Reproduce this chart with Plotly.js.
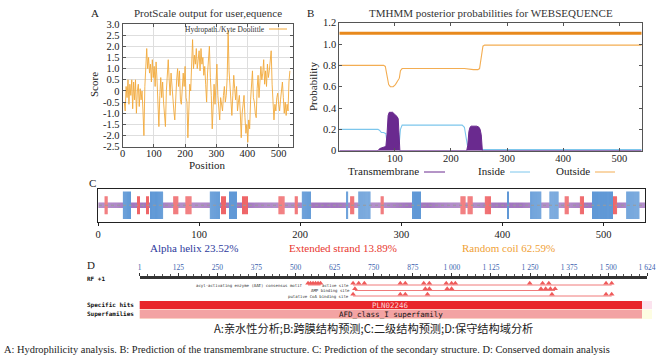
<!DOCTYPE html>
<html><head><meta charset="utf-8">
<script src="https://cdn.plot.ly/plotly-3.0.1.min.js"></script>
<style>html,body{margin:0;padding:0;background:#fff}#chart{width:661px;height:360px}</style>
</head><body><div id="chart"></div>
<script>
// ---------- Panel A: hydropathy (Kyte-Doolittle) ----------
const hydroPos = [5,8,11,14,17,20,23,26,29,32,35,38,41,44,47,50,53,56,59,62,65,68,71,74,77,80,83,86,89,92,95,98,101,104,107,110,113,116,119,122,125,128,131,134,137,140,143,146,149,152,155,158,161,164,167,170,173,176,179,182,185,188,191,194,197,200,203,206,209,212,215,218,221,224,227,230,233,236,239,242,245,248,251,254,257,260,263,266,269,272,275,278,281,284,287,290,293,296,299,302,305,308,311,314,317,320,323,326,329,332,335,338,341,344,347,350,353,356,359,362,365,368,371,374,377,380,383,386,389,392,395,398,401,404,407,410,413,416,419,422,425,428,431,434,437,440,443,446,449,452,455,458,461,464,467,470,473,476,479,482,485,488,491,494,497,500,503,506,509,512,515,518,521,524,527,530,533,536];
const hydroScore = [-0.5,-0.9,0.2,-0.3,0.5,-0.6,0.3,-0.2,0.5,-0.8,0.4,-0.4,0.5,-1.0,0.0,0.3,-0.7,0.1,-0.4,0.0,-0.9,-2.0,0.2,1.2,1.9,1.0,1.5,0.8,1.2,0.4,1.4,0.6,1.1,0.2,1.3,0.5,-0.3,-1.6,-0.2,0.6,-0.3,0.4,-0.5,-1.2,-1.6,0.0,1.0,1.4,0.5,-0.2,0.8,0.2,-0.6,-0.9,-1.3,-0.2,0.5,1.0,0.2,0.9,-0.4,-0.6,0.3,0.8,0.2,1.1,-0.3,-0.5,-2.1,-0.5,0.3,0.0,0.9,2.3,1.0,1.6,1.2,1.9,1.0,1.5,1.8,0.9,1.9,1.2,1.5,0.7,1.1,0.3,-0.5,0.8,1.3,2.0,0.6,-0.2,-1.7,-0.4,0.3,-0.6,0.5,1.2,-0.2,-0.8,-1.3,-0.3,-0.6,-0.9,-0.2,0.2,-0.5,-0.2,0.6,2.7,0.9,0.3,-0.4,-1.1,-0.2,0.7,0.1,-0.4,0.2,-0.9,-0.5,-0.2,-1.0,-2.1,-1.0,-0.6,-0.2,-1.2,-1.9,-1.5,-2.3,-1.3,-1.7,-0.4,0.2,0.9,-0.3,-0.5,-1.0,-1.2,0.1,0.7,-0.3,0.4,1.1,0.5,0.8,1.4,0.3,0.9,0.2,1.2,0.6,0.9,1.3,1.8,0.3,-0.5,-1.3,-0.6,-0.9,-0.3,-0.1,-0.6,-0.9,-0.4,0.1,0.4,-0.3,-1.0,-0.5,-1.1,-0.6,-0.9,0.4,0.9];
const scoreTicks = [-2.5,-2,-1.5,-1,-0.5,0,0.5,1,1.5,2,2.5,3];
const scoreTickText = ['-2.5','-2.0','-1.5','-1.0','-0.5','0','0.5','1.0','1.5','2.0','2.5','3.0'];
const positionTicks = [0,100,200,300,400,500];

// ---------- Panel B: TMHMM posterior probabilities ----------
const topologyPos = [1,540];
const topologyLevel = [1.1,1.1];
const outsidePos  = [1,76,80,83,86,89,92,97,101,105,108,110,113,150,200,224,240,248,251,253,255,257,260,400,540];
const outsideProb = [0.80,0.80,0.80,0.79,0.72,0.62,0.60,0.60,0.62,0.66,0.68,0.75,0.77,0.77,0.77,0.77,0.76,0.76,0.77,0.85,0.95,0.98,0.99,0.99,0.99];
const insidePos  = [1,70,73,76,80,84,86,88,105,108,110,113,150,220,224,227,230,233,260,540];
const insideProb = [0.20,0.20,0.19,0.17,0.17,0.16,0.08,0.03,0.03,0.08,0.20,0.24,0.24,0.24,0.22,0.12,0.03,0.015,0.01,0.01];
const tmPos  = [1,70,73,78,84,86,88,90,96,100,104,106,107,108,109,228,230,232,234,236,246,250,252,254,255,256,540];
const tmProb = [0,0,0.02,0.03,0.04,0.15,0.33,0.36,0.36,0.34,0.32,0.30,0.20,0.05,0,0,0.05,0.18,0.22,0.23,0.23,0.22,0.20,0.15,0.05,0,0];
const probTicks = [0,0.2,0.4,0.6,0.8,1.0,1.2];
const probTickText = ['0','0.2','0.4','0.6','0.8','1.0','1.2'];
const tmLegend = ['Transmembrane','Inside','Outside'];

// ---------- Panel C: secondary structure (SOPMA) ----------
const seqLength = 541;
const helixStart = [25,52,111,130,202,246,258,311,405,428,447,489,523];
const helixEnd   = [32,64,120,137,210,247,269,319,406,438,455,509,535];
const strandStart = [7,39,48,75,87,122,143,179,195,250,280,359,366,383,462,477,510];
const strandEnd   = [9,41,50,79,92,126,148,184,197,253,282,363,370,388,465,480,513];
const structureLabels = ['Alpha helix 23.52%','Extended strand 13.89%','Random coil 62.59%'];

// ---------- Panel D: conserved domains (CDD) ----------
const rulerTicks = [1,125,250,375,500,625,750,875,1000,1125,1250,1375,1500,1624];
const rulerTickText = ['1','125','250','375','500','625','750','875','1 000','1 125','1 250','1 375','1 500','1 624'];
const aaeMotifSites = [540,548,556,564,572,580];
const activeSites = [684,702,720,835,851,910,928,982,999,1011,1249,1290,1310,1493,1511];
const ampSites = [690,915,928,985,999,1285,1300,1315,1330];
const coaSites = [684,835,851,922,1320,1493,1511];
const specificHitName = 'PLN02246';
const specificHitRange = [1,1608];
const superfamilyName = 'AFD_class_I superfamily';
const superfamilyRange = [1,1608];

// ================= drawing =================
const W = 661, H = 360;
const px = x => x / W, py = y => 1 - y / H;
const SERIF = 'Liberation Serif, Times New Roman, serif';
const MONO = 'DejaVu Sans Mono, Liberation Mono, monospace';

function expand(starts, ends) {
  const out = [];
  for (let i = 0; i < starts.length; i++) for (let r = starts[i]; r <= ends[i]; r++) out.push(r);
  return out;
}
const helixRes = expand(helixStart, helixEnd);
const strandRes = expand(strandStart, strandEnd);
const taken = new Set(helixRes.concat(strandRes));
const coilRes = [];
for (let r = 1; r <= seqLength; r++) if (!taken.has(r)) coilRes.push(r);

const HELIX_H = 27.5, STRAND_H = 18, COIL_H = 5.5;
const traces = [];
// A
traces.push({type:'scatter', mode:'lines', x:hydroPos, y:hydroScore, xaxis:'x', yaxis:'y',
  line:{color:'#f2a93b', width:0.9}, hoverinfo:'skip'});
// B
traces.push({type:'scatter', mode:'lines', x:topologyPos, y:topologyLevel, xaxis:'x2', yaxis:'y2',
  line:{color:'#e8891c', width:3}, hoverinfo:'skip'});
traces.push({type:'scatter', mode:'lines', x:outsidePos, y:outsideProb, xaxis:'x2', yaxis:'y2',
  line:{color:'#f3ad52', width:1.1}, hoverinfo:'skip'});
traces.push({type:'scatter', mode:'lines', x:insidePos, y:insideProb, xaxis:'x2', yaxis:'y2',
  line:{color:'#7cc6ec', width:1.1}, hoverinfo:'skip'});
traces.push({type:'scatter', mode:'lines', x:tmPos, y:tmProb, xaxis:'x2', yaxis:'y2', fill:'tozeroy',
  fillcolor:'#6a2a8f', line:{color:'#6a2a8f', width:1}, hoverinfo:'skip'});
// C
traces.push({type:'scatter', mode:'lines', x:[1, seqLength], y:[0,0], xaxis:'x3', yaxis:'y3',
  line:{color:'#9a9a9a', width:1, dash:'dot'}, hoverinfo:'skip'});
traces.push({type:'bar', x:coilRes, y:coilRes.map(()=>COIL_H), base:coilRes.map(()=>-COIL_H/2), width:0.7,
  xaxis:'x3', yaxis:'y3', marker:{color:'#7d3fa6', line:{width:0}}, hoverinfo:'skip'});
traces.push({type:'bar', x:strandRes, y:strandRes.map(()=>STRAND_H), base:strandRes.map(()=>-STRAND_H/2), width:0.7,
  xaxis:'x3', yaxis:'y3', marker:{color:'#e8262a', line:{width:0}}, hoverinfo:'skip'});
traces.push({type:'bar', x:helixRes, y:helixRes.map(()=>HELIX_H), base:helixRes.map(()=>-HELIX_H/2), width:0.7,
  xaxis:'x3', yaxis:'y3', marker:{color:'#1f6fc6', line:{width:0}}, hoverinfo:'skip'});
// D rows (y in px-like units inside the panel)
const ROW_ACT = 36, ROW_AMP = 30.5, ROW_COA = 25, ROW_HIT = 16, ROW_SF = 7;
function siteRow(sites, row) {
  traces.push({type:'scatter', mode:'lines', x:[Math.min(...sites), Math.max(...sites)], y:[row,row],
    xaxis:'x4', yaxis:'y4', line:{color:'#f07a7a', width:1}, hoverinfo:'skip'});
  traces.push({type:'scatter', mode:'markers', x:sites, y:sites.map(()=>row+1.8),
    xaxis:'x4', yaxis:'y4', marker:{symbol:'triangle-up', size:5, color:'#ef5a5a', line:{width:0}}, hoverinfo:'skip'});
}
siteRow(aaeMotifSites, ROW_ACT);
siteRow(activeSites, ROW_ACT);
siteRow(ampSites, ROW_AMP);
siteRow(coaSites, ROW_COA);
traces.push({type:'bar', orientation:'h', y:[ROW_SF], base:[superfamilyRange[0]], x:[superfamilyRange[1]-superfamilyRange[0]],
  width:[9], xaxis:'x4', yaxis:'y4', marker:{color:'#f3a3a3', line:{width:0}}, hoverinfo:'skip'});
traces.push({type:'bar', orientation:'h', y:[ROW_HIT], base:[specificHitRange[0]], x:[specificHitRange[1]-specificHitRange[0]],
  width:[8], xaxis:'x4', yaxis:'y4', marker:{color:'#e8252b', line:{width:0}}, hoverinfo:'skip'});

function ann(text, x, y, o = {}) {
  return Object.assign({text, x:px(x), y:py(y), xref:'paper', yref:'paper', showarrow:false,
    xanchor:'center', yanchor:'middle', font:{family:SERIF, size:11, color:'#222'}}, o);
}
const annotations = [
  ann('A', 95, 13), ann('B', 310, 13), ann('C', 92, 183), ann('D', 91, 265),
  ann('ProtScale output for user,equence', 208, 13, {font:{family:SERIF, size:11, color:'#333'}}),
  ann('TMHMM posterior probabilities for WEBSEQUENCE', 491, 13, {font:{family:SERIF, size:11, color:'#333'}}),
  ann('Score', 94, 85, {textangle:-90}),
  ann('Position', 207, 165.5),
  ann('Probability', 313, 87, {textangle:-90}),
  ann('Hydropath./Kyte Doolittle', 267, 29, {xanchor:'right', font:{family:SERIF, size:7.5, color:'#333'}}),
  ann(tmLegend[0], 421, 171, {xanchor:'right'}),
  ann(tmLegend[1], 507, 171, {xanchor:'right'}),
  ann(tmLegend[2], 592, 171, {xanchor:'right'}),
  ann(structureLabels[0], 194, 247.5, {font:{family:SERIF, size:11, color:'#2d3a9c'}}),
  ann(structureLabels[1], 343, 247.5, {font:{family:SERIF, size:11, color:'#e8382f'}}),
  ann(structureLabels[2], 508, 247.5, {font:{family:SERIF, size:11, color:'#f0a136'}}),
  ann('RF +1', 85, 278, {xanchor:'left', font:{family:MONO, size:6, color:'#111', weight:'bold'}}),
  ann('Specific hits', 85, 304.5, {xanchor:'left', font:{family:MONO, size:6, color:'#111', weight:'bold'}}),
  ann('Superfamilies', 85, 314, {xanchor:'left', font:{family:MONO, size:6, color:'#111', weight:'bold'}}),
  ann('acyl-activating enzyme (AAE) consensus motif', 305, 285, {xanchor:'right', font:{family:MONO, size:4, color:'#333'}}),
  ann('active site', 351, 285, {xanchor:'right', font:{family:MONO, size:4, color:'#333'}}),
  ann('AMP binding site', 352, 290.5, {xanchor:'right', font:{family:MONO, size:4, color:'#333'}}),
  ann('putative CoA binding site', 351, 296, {xanchor:'right', font:{family:MONO, size:4, color:'#333'}}),
  {text:specificHitName, x:(specificHitRange[0]+specificHitRange[1])/2, y:ROW_HIT, xref:'x4', yref:'y4', showarrow:false,
    xanchor:'center', yanchor:'middle', font:{family:MONO, size:7.5, color:'#fbd3d3'}},
  {text:superfamilyName, x:(superfamilyRange[0]+superfamilyRange[1])/2, y:ROW_SF, xref:'x4', yref:'y4', showarrow:false,
    xanchor:'center', yanchor:'middle', font:{family:MONO, size:7.5, color:'#111'}},
  ann('A:亲水性分析;B:跨膜结构预测;C:二级结构预测;D:保守结构域分析', 373, 328,
      {font:{family:'Noto Sans CJK SC, sans-serif', size:11.2, color:'#222'}}),
  ann('A: Hydrophilicity analysis. B: Prediction of the transmembrane structure. C: Prediction of the secondary structure. D: Conserved domain analysis',
      2, 349, {xanchor:'left', font:{family:SERIF, size:10.4, color:'#222'}})
];

const shapes = [
  {type:'line', xref:'paper', yref:'paper', x0:px(269), x1:px(287), y0:py(29), y1:py(29), line:{color:'#f2a93b', width:1}},
  {type:'line', xref:'paper', yref:'paper', x0:px(424), x1:px(445), y0:py(172), y1:py(172), line:{color:'#6a2a8f', width:1}},
  {type:'line', xref:'paper', yref:'paper', x0:px(510), x1:px(530), y0:py(172), y1:py(172), line:{color:'#7cc6ec', width:1}},
  {type:'line', xref:'paper', yref:'paper', x0:px(595), x1:px(615), y0:py(172), y1:py(172), line:{color:'#f3ad52', width:1}},
  {type:'rect', xref:'paper', yref:'paper', x0:px(139.5), x1:px(652), y0:py(309), y1:py(301), fillcolor:'#fbe3ee', line:{width:0}, layer:'below'},
  {type:'rect', xref:'paper', yref:'paper', x0:px(139.5), x1:px(652), y0:py(319), y1:py(309.5), fillcolor:'#fdfde2', line:{width:0}, layer:'below'}
];

const axA = {showline:true, mirror:'ticks', linecolor:'#555', linewidth:1, ticks:'inside', ticklen:3, tickcolor:'#555',
  zeroline:false, tickfont:{family:SERIF, size:10.5, color:'#222'}};
const layout = {
  width:W, height:H, margin:{l:0, r:0, t:0, b:0}, paper_bgcolor:'#fff', plot_bgcolor:'rgba(0,0,0,0)',
  showlegend:false, barmode:'overlay', font:{family:SERIF},
  xaxis: Object.assign({}, axA, {domain:[px(122.7), px(292.7)], range:[0,545], tickvals:positionTicks,
    showgrid:true, gridcolor:'#dedede', gridwidth:1, anchor:'y', ticklabelstandoff:-3}),
  yaxis: Object.assign({}, axA, {domain:[py(146.7), py(24)], range:[-2.5,3.0], tickvals:scoreTicks, ticktext:scoreTickText,
    showgrid:true, gridcolor:'#dedede', gridwidth:1, anchor:'x'}),
  xaxis2: Object.assign({}, axA, {domain:[px(339.3), px(641.7)], range:[1,540], tickvals:[100,200,300,400,500],
    showgrid:false, anchor:'y2', ticklabelstandoff:-2}),
  yaxis2: Object.assign({}, axA, {domain:[py(150.7), py(22.7)], range:[0,1.2], tickvals:probTicks, ticktext:probTickText,
    showgrid:false, anchor:'x2'}),
  xaxis3: {domain:[px(98), px(645)], range:[0,541], anchor:'y3', showline:true, mirror:true, linecolor:'#222', linewidth:1,
    ticks:'outside', ticklen:3, tickcolor:'#222', tickvals:[0,100,200,300,400,500], showgrid:false, zeroline:false,
    tickfont:{family:SERIF, size:10.5, color:'#222'}},
  yaxis3: {domain:[py(221.5), py(189)], range:[-16.25,16.25], anchor:'x3', showline:true, mirror:true, linecolor:'#222',
    linewidth:1, showticklabels:false, ticks:'', showgrid:false, zeroline:false},
  xaxis4: {domain:[px(139.5), px(647)], range:[1,1624], anchor:'y4', side:'top', showline:true, linecolor:'#333', linewidth:3,
    ticks:'outside', ticklen:3, tickcolor:'#333', tickvals:rulerTicks, ticktext:rulerTickText, showgrid:false, zeroline:false,
    minor:{dtick:25, tick0:0, ticks:'outside', ticklen:2, tickcolor:'#555'},
    tickfont:{family:SERIF, size:7.5, color:'#3b5fae'}},
  yaxis4: {domain:[py(321), py(279)], range:[0,42], anchor:'x4', visible:false},
  annotations, shapes
};
Plotly.newPlot('chart', traces, layout, {staticPlot:true});
</script></body></html>
